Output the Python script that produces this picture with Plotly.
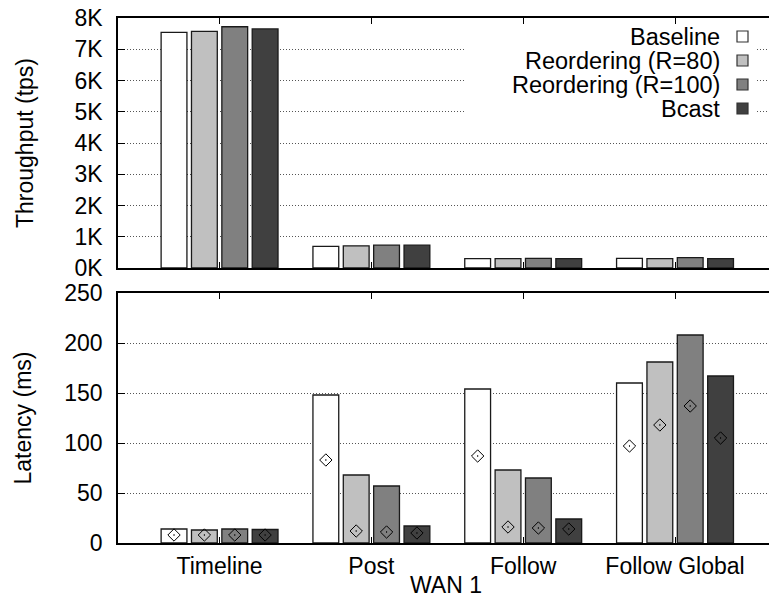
import plotly.graph_objects as go

# ---------------- data ----------------
categories = ["Timeline", "Post", "Follow", "Follow Global"]
series_names = ["Baseline", "Reordering (R=80)", "Reordering (R=100)", "Bcast"]

throughput_baseline = [7540, 690, 300, 310]
throughput_r80 = [7570, 710, 300, 300]
throughput_r100 = [7720, 730, 310, 330]
throughput_bcast = [7650, 730, 300, 300]

latency_baseline = [14, 148, 154, 160]
latency_r80 = [13, 68, 73, 181]
latency_r100 = [14, 57, 65, 208]
latency_bcast = [13.5, 17, 24, 167]

median_baseline = [8, 83, 87, 97]
median_r80 = [8, 12, 16, 118]
median_r100 = [8, 11, 15, 137]
median_bcast = [8, 10, 14, 105]

throughput_ticks = [0, 1000, 2000, 3000, 4000, 5000, 6000, 7000, 8000]
throughput_ticktext = ["0K", "1K", "2K", "3K", "4K", "5K", "6K", "7K", "8K"]
latency_ticks = [0, 50, 100, 150, 200, 250]
x_title = "WAN 1"

throughputs = [throughput_baseline, throughput_r80, throughput_r100, throughput_bcast]
latencies = [latency_baseline, latency_r80, latency_r100, latency_bcast]
medians = [median_baseline, median_r80, median_r100, median_bcast]

# ---------------- style ----------------
fills = ["#ffffff", "#c0c0c0", "#808080", "#404040"]
edge = "#1a1a1a"
FONT = "Liberation Sans, Arial, sans-serif"
W, H = 769, 600
ML, MR, MT, MB = 118, 0, 18, 57
PW, PH = W - ML - MR, H - MT - MB


def px_x(px):
    return (px - ML) / PW


def px_y(py):
    return (H - MB - py) / PH


fig = go.Figure()

for i, name in enumerate(series_names):
    fig.add_trace(go.Bar(
        x=categories, y=throughputs[i], name=name,
        marker=dict(color=fills[i], line=dict(color=edge, width=1.3)),
        xaxis="x", yaxis="y", offsetgroup=str(i), showlegend=False,
    ))
for i, name in enumerate(series_names):
    fig.add_trace(go.Bar(
        x=categories, y=latencies[i], name=name,
        marker=dict(color=fills[i], line=dict(color=edge, width=1.3)),
        xaxis="x2", yaxis="y2", offsetgroup=str(i), showlegend=False,
    ))
for i, name in enumerate(series_names):
    fig.add_trace(go.Scatter(
        x=categories, y=medians[i], name=name + " median", mode="markers",
        marker=dict(symbol="diamond-open-dot", size=9.5, color="black",
                    line=dict(color="black", width=1)),
        xaxis="x2", yaxis="y2", offsetgroup=str(i), showlegend=False,
    ))

xrange = [-0.669, 3.619]
common_x = dict(
    type="category", categoryorder="array", categoryarray=categories,
    range=xrange, showline=True, linecolor="black", linewidth=1.5,
    mirror="ticks", ticks="inside", ticklen=6, tickcolor="black", tickwidth=1,
    showgrid=False, zeroline=False, automargin=False,
)
common_y = dict(
    showline=True, linecolor="black", linewidth=1.5, mirror=False,
    ticks="inside", ticklen=7, tickcolor="black", tickwidth=1,
    showgrid=True, gridcolor="#555555", griddash="1px,2px", gridwidth=1,
    zeroline=False, automargin=False, ticklabelstandoff=9,
    tickfont=dict(size=23),
)

top_bottom = px_y(268)
bot_top = px_y(293)

fig.update_layout(
    width=W, height=H,
    margin=dict(l=ML, r=MR, t=MT, b=MB),
    plot_bgcolor="white", paper_bgcolor="white",
    font=dict(family=FONT, size=23, color="black"),
    barmode="group", bargap=0.2, bargroupgap=0.15,
    scattermode="group", scattergap=0.2,
    showlegend=False,
    xaxis=dict(common_x, domain=[0, 1], anchor="y", showticklabels=False),
    yaxis=dict(common_y, domain=[top_bottom, 1], anchor="x", range=[0, 8000],
               tickvals=throughput_ticks, ticktext=throughput_ticktext,
               title=dict(text="Throughput (tps)", standoff=34, font=dict(size=23))),
    xaxis2=dict(common_x, domain=[0, 1], anchor="y2", tickfont=dict(size=23),
                ticklabelstandoff=2),
    yaxis2=dict(common_y, domain=[0, bot_top], anchor="x2", range=[0, 250],
                tickvals=latency_ticks,
                title=dict(text="Latency (ms)", standoff=26, font=dict(size=23))),
)

# ---------------- legend (text then swatch, gnuplot style) ----------------
shapes = [dict(type="rect", xref="paper", yref="paper",
               x0=px_x(466), x1=px_x(757), y0=px_y(121), y1=px_y(26),
               fillcolor="white", line=dict(width=0), layer="above")]
annotations = []
row_centers = [36.5, 60.5, 84.5, 108.5]
for i, name in enumerate(series_names):
    yc = row_centers[i]
    annotations.append(dict(
        text=name, xref="paper", yref="paper", x=px_x(722), y=px_y(yc),
        xanchor="right", yanchor="middle", showarrow=False,
        font=dict(family=FONT, size=23.5, color="black"),
    ))
    shapes.append(dict(type="rect", xref="paper", yref="paper",
                       x0=px_x(737), x1=px_x(748), y0=px_y(yc + 5.5), y1=px_y(yc - 5.5),
                       fillcolor=fills[i], line=dict(color="#333333", width=1.2),
                       layer="above"))

# x-axis title, kept just inside the bottom edge
annotations.append(dict(
    text=x_title, xref="paper", yref="paper", x=px_x(446), y=px_y(600),
    xanchor="center", yanchor="bottom", showarrow=False,
    font=dict(family=FONT, size=23, color="black"),
))

fig.update_layout(shapes=shapes, annotations=annotations)

fig.write_html("out.html")
